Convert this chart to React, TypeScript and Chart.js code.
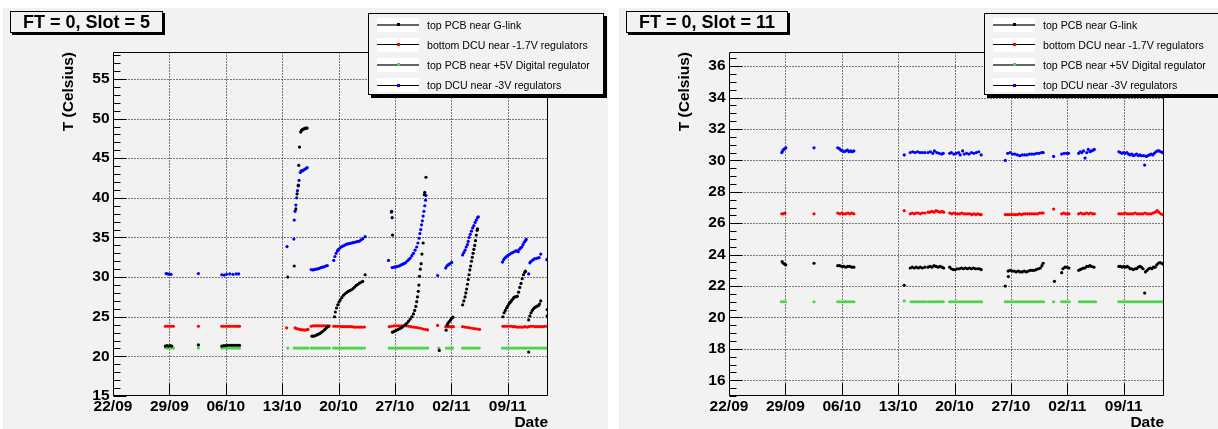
import React, { useEffect, useRef } from 'react';
import { Chart, registerables } from 'chart.js';

Chart.register(...registerables);

type Pt = [number, number];

// x values are days since 22/09
const DATE_TICK_DAYS = [0, 7, 14, 21, 28, 35, 42, 49];
const DATE_TICK_LABELS = ['22/09', '29/09', '06/10', '13/10', '20/10', '27/10', '02/11', '09/11'];
const X_MAX_DAYS = 54;

const SLOT5_Y_TICKS = [15, 20, 25, 30, 35, 40, 45, 50, 55];
const SLOT11_Y_TICKS = [16, 18, 20, 22, 24, 26, 28, 30, 32, 34, 36];

const SERIES_NAMES = [
  'top PCB near G-link',
  'bottom DCU near -1.7V regulators',
  'top PCB near +5V Digital regulator',
  'top DCU near -3V regulators',
];
const SERIES_COLORS = ['#000000', '#ff0000', '#4fd34f', '#0000ff'];

// ---------------- FT = 0, Slot = 5 ----------------
const slot5_glink: Pt[] = [
  [6.5, 21.3], [6.7, 21.35], [6.9, 21.3], [7.1, 21.35], [7.3, 21.3],
  [10.6, 21.45],
  [13.5, 21.3], [13.75, 21.35], [14.0, 21.35], [14.25, 21.4], [14.5, 21.4], [14.75, 21.4], [15.0, 21.4], [15.25, 21.4], [15.5, 21.4], [15.7, 21.4],
  [21.7, 30.0], [22.5, 31.4], [22.7, 38.6], [22.85, 40.5], [23.0, 41.6], [23.05, 44.1], [23.15, 46.4],
  [23.3, 48.3], [23.4, 48.5], [23.5, 48.6], [23.6, 48.65], [23.7, 48.7], [23.8, 48.75], [23.9, 48.8], [24.0, 48.8], [24.1, 48.8],
  [24.7, 22.55], [24.9, 22.55], [25.1, 22.6], [25.3, 22.7], [25.5, 22.8], [25.7, 22.9], [25.9, 23.05], [26.1, 23.2], [26.3, 23.4], [26.5, 23.6], [26.7, 23.75],
  [27.5, 25.0], [27.6, 25.6], [27.75, 26.1], [27.9, 26.5], [28.05, 26.85], [28.2, 27.1], [28.4, 27.4], [28.6, 27.7], [28.8, 27.9], [29.0, 28.05],
  [29.2, 28.2], [29.4, 28.3], [29.6, 28.4], [29.8, 28.55], [30.0, 28.75], [30.2, 28.95], [30.4, 29.1], [30.6, 29.25], [30.8, 29.35], [31.0, 29.45], [31.3, 30.3],
  [34.6, 38.3], [34.65, 37.5], [34.7, 35.3],
  [34.7, 23.05], [34.9, 23.15], [35.1, 23.25], [35.3, 23.35], [35.5, 23.45], [35.7, 23.55], [35.9, 23.7], [36.1, 23.85], [36.3, 24.0], [36.5, 24.2],
  [36.7, 24.45], [36.9, 24.7], [37.1, 25.0], [37.3, 25.35], [37.45, 25.8], [37.6, 26.3], [37.7, 26.9], [37.8, 27.5], [37.9, 28.2], [37.97, 29.0],
  [38.05, 30.1], [38.15, 31.0], [38.25, 31.7], [38.35, 32.9], [38.5, 34.3], [38.65, 40.4], [38.7, 40.7], [38.85, 42.6],
  [40.5, 20.75],
  [41.35, 23.3], [41.5, 24.0], [41.6, 24.2], [41.75, 24.4], [41.9, 24.6], [42.05, 24.8], [42.2, 24.95],
  [43.4, 26.5], [43.55, 27.0], [43.7, 27.5], [43.8, 28.0], [43.9, 28.5], [44.0, 29.1], [44.1, 29.7], [44.2, 30.3], [44.3, 30.9], [44.4, 31.4],
  [44.5, 32.0], [44.6, 32.5], [44.7, 33.0], [44.8, 33.5], [44.9, 34.0], [45.0, 34.6], [45.1, 35.3], [45.2, 35.9], [45.25, 36.1],
  [48.4, 25.0], [48.55, 25.5], [48.7, 25.8], [48.85, 26.1], [49.0, 26.35], [49.15, 26.6], [49.3, 26.8], [49.45, 27.0], [49.6, 27.2], [49.75, 27.4],
  [49.9, 27.5], [50.05, 27.55], [50.2, 27.6], [50.35, 28.1], [50.5, 28.7], [50.65, 29.2], [50.8, 29.8], [50.95, 30.3], [51.1, 30.6], [51.2, 30.75],
  [51.6, 20.55],
  [51.6, 24.6], [51.75, 25.1], [51.9, 25.5], [52.05, 25.8], [52.2, 26.0], [52.35, 26.15], [52.5, 26.25], [52.65, 26.35], [52.8, 26.4], [52.95, 26.6], [53.1, 27.0],
  [53.9, 25.1], [53.9, 25.9],
];

const slot5_bdcu: Pt[] = [
  [6.5, 23.8], [6.75, 23.8], [7.0, 23.8], [7.25, 23.8], [7.5, 23.8],
  [10.6, 23.8],
  [13.5, 23.8], [13.75, 23.8], [14.0, 23.8], [14.25, 23.8], [14.5, 23.8], [14.75, 23.8], [15.0, 23.8], [15.25, 23.8], [15.5, 23.8], [15.7, 23.8],
  [21.55, 23.6],
  [22.6, 23.6], [22.8, 23.5], [23.0, 23.45], [23.2, 23.4], [23.4, 23.35], [23.6, 23.35], [23.8, 23.3], [24.0, 23.35], [24.2, 23.4],
  [24.6, 23.8], [24.85, 23.85], [25.1, 23.85], [25.35, 23.85], [25.6, 23.85], [25.85, 23.85], [26.1, 23.85], [26.35, 23.85], [26.6, 23.85], [26.85, 23.85],
  [27.4, 23.8], [27.65, 23.8], [27.9, 23.8], [28.15, 23.8], [28.4, 23.75], [28.65, 23.75], [28.9, 23.75], [29.15, 23.75], [29.4, 23.75], [29.65, 23.75],
  [29.9, 23.7], [30.15, 23.7], [30.4, 23.7], [30.65, 23.7], [30.9, 23.7], [31.2, 23.7],
  [34.3, 23.75], [34.6, 23.8], [34.9, 23.85], [35.2, 23.85], [35.5, 23.85], [35.8, 23.85], [36.1, 23.85], [36.4, 23.85], [36.7, 23.8], [37.0, 23.75],
  [37.3, 23.7], [37.6, 23.65], [37.9, 23.6], [38.2, 23.55], [38.5, 23.45], [38.8, 23.4], [39.05, 23.35],
  [40.3, 23.9],
  [41.3, 23.75], [41.55, 23.75], [41.8, 23.75], [42.05, 23.75], [42.25, 23.75],
  [43.4, 23.75], [43.7, 23.7], [44.0, 23.65], [44.3, 23.6], [44.6, 23.55], [44.9, 23.5], [45.2, 23.45], [45.5, 23.4],
  [48.4, 23.8], [48.65, 23.8], [48.9, 23.8], [49.15, 23.8], [49.4, 23.8], [49.65, 23.75], [49.9, 23.75], [50.15, 23.7], [50.4, 23.7], [50.65, 23.7],
  [50.9, 23.7], [51.15, 23.75], [51.4, 23.7], [51.65, 23.75], [51.9, 23.8], [52.15, 23.8], [52.4, 23.75], [52.65, 23.75], [52.9, 23.75], [53.15, 23.75],
  [53.4, 23.75], [53.65, 23.8], [53.9, 23.8],
];

const slot5_pcb5v: Pt[] = [
  [6.5, 21.1], [6.75, 21.05], [7.0, 21.05], [7.25, 21.05], [7.5, 21.05],
  [10.6, 21.05],
  [13.5, 21.05], [13.75, 21.05], [14.0, 21.1], [14.25, 21.05], [14.5, 21.05], [14.75, 21.05], [15.0, 21.05], [15.25, 21.05], [15.5, 21.05], [15.7, 21.05],
  [21.7, 21.05],
  [22.5, 21.05], [22.75, 21.05], [23.0, 21.05], [23.25, 21.05], [23.5, 21.05], [23.75, 21.05], [24.0, 21.05], [24.2, 21.05],
  [24.6, 21.05], [24.85, 21.05], [25.1, 21.05], [25.35, 21.05], [25.6, 21.05], [25.85, 21.05], [26.1, 21.05], [26.35, 21.05], [26.6, 21.05], [26.85, 21.05],
  [27.4, 21.05], [27.65, 21.05], [27.9, 21.05], [28.15, 21.05], [28.4, 21.05], [28.65, 21.05], [28.9, 21.05], [29.15, 21.05], [29.4, 21.05], [29.65, 21.05],
  [29.9, 21.05], [30.15, 21.05], [30.4, 21.05], [30.65, 21.05], [30.9, 21.05], [31.2, 21.05],
  [34.3, 21.05], [34.55, 21.05], [34.8, 21.05], [35.05, 21.05], [35.3, 21.05], [35.55, 21.05], [35.8, 21.05], [36.05, 21.05], [36.3, 21.05], [36.55, 21.05],
  [36.8, 21.05], [37.05, 21.05], [37.3, 21.05], [37.55, 21.05], [37.8, 21.05], [38.05, 21.05], [38.3, 21.05], [38.55, 21.05], [38.8, 21.05], [39.05, 21.05],
  [40.45, 21.05],
  [41.4, 21.05], [41.65, 21.05], [41.9, 21.05], [42.15, 21.05],
  [43.4, 21.05], [43.65, 21.05], [43.9, 21.05], [44.15, 21.05], [44.4, 21.05], [44.65, 21.05], [44.9, 21.05], [45.15, 21.05], [45.45, 21.05],
  [48.35, 21.05], [48.6, 21.05], [48.85, 21.05], [49.1, 21.05], [49.35, 21.05], [49.6, 21.05], [49.85, 21.05], [50.1, 21.05], [50.35, 21.05], [50.6, 21.05],
  [50.85, 21.05], [51.1, 21.05], [51.35, 21.05], [51.6, 21.05], [51.85, 21.05], [52.1, 21.05], [52.35, 21.05], [52.6, 21.05], [52.85, 21.05], [53.1, 21.05],
  [53.35, 21.05], [53.6, 21.05], [53.85, 21.05], [54.0, 21.05],
];

const slot5_tdcu: Pt[] = [
  [6.6, 30.45], [6.8, 30.4], [7.0, 30.35], [7.2, 30.35],
  [10.6, 30.45],
  [13.5, 30.3], [13.8, 30.25], [14.1, 30.35], [14.5, 30.4], [14.9, 30.35], [15.3, 30.4], [15.6, 30.4],
  [21.6, 33.85],
  [22.45, 34.8], [22.5, 37.2], [22.6, 38.3], [22.7, 39.1], [22.8, 40.0], [22.9, 40.9], [23.0, 41.5], [23.1, 42.2], [23.25, 43.2],
  [23.35, 43.4], [23.5, 43.4], [23.65, 43.5], [23.8, 43.6], [23.95, 43.7], [24.1, 43.8],
  [24.6, 30.95], [24.8, 30.9], [25.0, 30.95], [25.2, 31.0], [25.4, 31.05], [25.6, 31.1], [25.8, 31.2], [26.0, 31.25], [26.2, 31.3], [26.4, 31.4], [26.6, 31.45],
  [27.4, 32.1], [27.55, 32.6], [27.7, 33.0], [27.85, 33.3], [28.0, 33.5], [28.2, 33.7], [28.4, 33.85], [28.6, 33.95], [28.8, 34.05], [29.0, 34.15],
  [29.2, 34.2], [29.4, 34.25], [29.6, 34.3], [29.8, 34.35], [30.0, 34.4], [30.2, 34.45], [30.4, 34.5], [30.6, 34.55], [30.8, 34.7], [31.0, 34.85], [31.3, 35.1],
  [34.2, 32.1], [34.55, 38.2],
  [34.65, 31.2], [34.9, 31.25], [35.1, 31.3], [35.3, 31.35], [35.5, 31.4], [35.7, 31.5], [35.9, 31.6], [36.1, 31.7], [36.3, 31.8], [36.5, 32.0],
  [36.7, 32.2], [36.9, 32.4], [37.1, 32.7], [37.3, 33.0], [37.5, 33.4], [37.7, 33.8], [37.85, 34.3], [38.0, 34.9], [38.1, 35.5], [38.2, 36.0],
  [38.3, 36.6], [38.4, 37.1], [38.5, 37.7], [38.6, 38.3], [38.7, 39.0], [38.8, 39.7], [38.85, 40.3],
  [40.3, 30.2],
  [41.3, 31.15], [41.45, 31.4], [41.6, 31.55], [41.75, 31.65], [41.9, 31.75], [42.05, 31.85],
  [43.4, 32.8], [43.55, 33.1], [43.7, 33.4], [43.85, 33.8], [44.0, 34.1], [44.1, 34.5], [44.2, 35.0], [44.35, 35.4], [44.5, 35.8], [44.65, 36.2],
  [44.8, 36.5], [44.95, 36.9], [45.1, 37.2], [45.25, 37.5], [45.35, 37.6],
  [48.35, 31.9], [48.5, 32.2], [48.65, 32.4], [48.8, 32.55], [49.0, 32.7], [49.2, 32.85], [49.4, 33.0], [49.6, 33.1], [49.8, 33.2], [50.0, 33.3],
  [50.15, 33.3], [50.3, 33.2], [50.45, 33.5], [50.6, 33.7], [50.75, 33.8], [50.9, 34.1], [51.05, 34.4], [51.2, 34.6], [51.3, 34.75],
  [51.6, 30.4], [51.75, 31.8], [51.9, 32.0], [52.1, 32.15], [52.3, 32.3], [52.5, 32.35], [52.7, 32.4], [52.9, 32.45], [53.1, 32.9],
  [53.85, 32.2], [53.95, 32.3],
];

// ---------------- FT = 0, Slot = 11 ----------------
const slot11_glink: Pt[] = [
  [6.6, 23.55], [6.75, 23.45], [6.9, 23.4], [7.05, 23.35],
  [10.55, 23.45],
  [13.5, 23.3], [13.75, 23.3], [14.0, 23.25], [14.25, 23.25], [14.5, 23.2], [14.75, 23.25], [15.0, 23.25], [15.25, 23.2], [15.5, 23.2],
  [21.75, 22.05],
  [22.5, 23.15], [22.75, 23.2], [23.0, 23.15], [23.25, 23.2], [23.5, 23.15], [23.75, 23.2], [24.0, 23.15], [24.3, 23.2],
  [24.7, 23.2], [24.95, 23.25], [25.2, 23.2], [25.45, 23.3], [25.7, 23.25], [25.95, 23.2], [26.2, 23.25], [26.45, 23.2], [26.65, 23.15],
  [27.4, 23.2], [27.6, 23.1], [27.85, 23.05], [28.1, 23.05], [28.35, 23.1], [28.6, 23.1], [28.85, 23.15], [29.1, 23.1], [29.35, 23.15], [29.6, 23.1],
  [29.85, 23.15], [30.1, 23.1], [30.35, 23.15], [30.6, 23.1], [30.85, 23.1], [31.1, 23.1], [31.3, 23.05],
  [34.3, 22.0], [34.65, 22.95], [34.68, 22.6], [34.9, 23.0], [35.15, 22.95], [35.4, 22.95], [35.65, 22.9], [35.9, 22.95], [36.15, 22.9], [36.4, 22.9],
  [36.65, 22.95], [36.9, 22.9], [37.15, 22.95], [37.4, 23.0], [37.65, 23.0], [37.9, 23.0], [38.15, 23.05], [38.4, 23.1], [38.65, 23.15], [38.85, 23.3], [39.0, 23.45],
  [40.4, 22.3],
  [41.3, 22.85], [41.45, 23.1], [41.7, 23.2], [41.95, 23.2], [42.2, 23.15],
  [43.4, 23.0], [43.6, 23.05], [43.8, 23.1], [44.0, 23.15], [44.2, 23.15], [44.4, 23.25], [44.6, 23.25], [44.8, 23.3], [45.0, 23.25], [45.3, 23.2],
  [48.4, 23.25], [48.6, 23.25], [48.8, 23.2], [49.0, 23.25], [49.2, 23.2], [49.4, 23.25], [49.6, 23.2], [49.8, 23.1], [50.0, 23.1], [50.2, 23.05],
  [50.4, 23.1], [50.6, 23.1], [50.8, 23.2], [51.0, 23.25], [51.2, 23.2], [51.4, 23.1], [51.6, 21.55], [51.7, 22.9], [51.9, 23.0], [52.1, 23.1],
  [52.3, 23.15], [52.5, 23.1], [52.7, 23.2], [52.9, 23.2], [53.1, 23.35], [53.3, 23.45], [53.5, 23.5], [53.7, 23.45], [53.9, 23.4],
];

const slot11_bdcu: Pt[] = [
  [6.55, 26.6], [6.75, 26.6], [6.95, 26.65],
  [10.55, 26.6],
  [13.5, 26.65], [13.75, 26.6], [14.0, 26.65], [14.25, 26.6], [14.5, 26.6], [14.75, 26.65], [15.0, 26.6], [15.25, 26.65], [15.5, 26.6],
  [21.75, 26.8],
  [22.5, 26.6], [22.75, 26.65], [23.0, 26.6], [23.25, 26.65], [23.5, 26.65], [23.75, 26.6], [24.0, 26.65], [24.3, 26.65],
  [24.7, 26.7], [24.95, 26.7], [25.2, 26.75], [25.45, 26.7], [25.7, 26.8], [25.95, 26.75], [26.2, 26.7], [26.45, 26.75], [26.65, 26.7],
  [27.4, 26.65], [27.65, 26.6], [27.9, 26.65], [28.15, 26.6], [28.4, 26.6], [28.65, 26.6], [28.9, 26.65], [29.15, 26.6], [29.4, 26.6], [29.65, 26.6],
  [29.9, 26.6], [30.15, 26.55], [30.4, 26.6], [30.65, 26.55], [30.9, 26.6], [31.15, 26.55], [31.3, 26.55],
  [34.3, 26.55], [34.55, 26.55], [34.8, 26.55], [35.05, 26.55], [35.3, 26.55], [35.55, 26.55], [35.8, 26.55], [36.05, 26.6], [36.3, 26.55], [36.55, 26.6],
  [36.8, 26.6], [37.05, 26.6], [37.3, 26.6], [37.55, 26.6], [37.8, 26.6], [38.05, 26.6], [38.3, 26.6], [38.55, 26.65], [38.8, 26.65], [39.0, 26.65],
  [40.3, 26.9],
  [41.3, 26.6], [41.55, 26.65], [41.8, 26.6], [42.05, 26.6], [42.2, 26.6],
  [43.4, 26.6], [43.65, 26.65], [43.9, 26.6], [44.15, 26.6], [44.4, 26.65], [44.65, 26.6], [44.9, 26.65], [45.15, 26.6], [45.35, 26.6],
  [48.4, 26.6], [48.65, 26.6], [48.9, 26.6], [49.15, 26.65], [49.4, 26.6], [49.65, 26.6], [49.9, 26.6], [50.15, 26.6], [50.4, 26.65], [50.65, 26.6],
  [50.9, 26.6], [51.15, 26.6], [51.4, 26.6], [51.65, 26.65], [51.9, 26.6], [52.15, 26.6], [52.4, 26.6], [52.65, 26.65], [52.9, 26.7], [53.15, 26.8],
  [53.35, 26.7], [53.6, 26.6], [53.85, 26.55], [54.0, 26.55],
];

const slot11_pcb5v: Pt[] = [
  [6.5, 21.0], [6.75, 21.0], [7.0, 21.0],
  [10.55, 21.0],
  [13.5, 21.0], [13.75, 21.0], [14.0, 21.0], [14.25, 21.0], [14.5, 21.0], [14.75, 21.0], [15.0, 21.0], [15.25, 21.0], [15.5, 21.0],
  [21.75, 21.05],
  [22.6, 21.0], [22.85, 21.0], [23.1, 21.0], [23.35, 21.0], [23.6, 21.0], [23.85, 21.0], [24.1, 21.0], [24.35, 21.0],
  [24.7, 21.0], [24.95, 21.0], [25.2, 21.0], [25.45, 21.0], [25.7, 21.0], [25.95, 21.0], [26.2, 21.0], [26.45, 21.0], [26.6, 21.0],
  [27.4, 21.0], [27.65, 21.0], [27.9, 21.0], [28.15, 21.0], [28.4, 21.0], [28.65, 21.0], [28.9, 21.0], [29.15, 21.0], [29.4, 21.0], [29.65, 21.0],
  [29.9, 21.0], [30.15, 21.0], [30.4, 21.0], [30.65, 21.0], [30.9, 21.0], [31.15, 21.0], [31.35, 21.0],
  [34.3, 21.0], [34.55, 21.0], [34.8, 21.0], [35.05, 21.0], [35.3, 21.0], [35.55, 21.0], [35.8, 21.0], [36.05, 21.0], [36.3, 21.0], [36.55, 21.0],
  [36.8, 21.0], [37.05, 21.0], [37.3, 21.0], [37.55, 21.0], [37.8, 21.0], [38.05, 21.0], [38.3, 21.0], [38.55, 21.0], [38.8, 21.0], [39.05, 21.0],
  [40.3, 21.0],
  [41.3, 21.0], [41.55, 21.0], [41.8, 21.0], [42.05, 21.0], [42.25, 21.0],
  [43.5, 21.0], [43.75, 21.0], [44.0, 21.0], [44.25, 21.0], [44.5, 21.0], [44.75, 21.0], [45.0, 21.0], [45.25, 21.0], [45.5, 21.0],
  [48.4, 21.0], [48.65, 21.0], [48.9, 21.0], [49.15, 21.0], [49.4, 21.0], [49.65, 21.0], [49.9, 21.0], [50.15, 21.0], [50.4, 21.0], [50.65, 21.0],
  [50.9, 21.0], [51.15, 21.0], [51.4, 21.0], [51.65, 21.0], [51.9, 21.0], [52.15, 21.0], [52.4, 21.0], [52.65, 21.0], [52.9, 21.0], [53.15, 21.0],
  [53.4, 21.0], [53.65, 21.0], [53.9, 21.0], [54.0, 21.0],
];

const slot11_tdcu: Pt[] = [
  [6.55, 30.5], [6.65, 30.6], [6.8, 30.7], [6.95, 30.75], [7.05, 30.8],
  [10.55, 30.8],
  [13.5, 30.8], [13.7, 30.75], [13.9, 30.65], [14.1, 30.6], [14.3, 30.55], [14.5, 30.6], [14.7, 30.65], [14.9, 30.55], [15.1, 30.6], [15.3, 30.55], [15.5, 30.6],
  [21.75, 30.35],
  [22.5, 30.5], [22.8, 30.55], [23.1, 30.5], [23.4, 30.55], [23.7, 30.5], [24.0, 30.5], [24.3, 30.5],
  [24.7, 30.5], [25.0, 30.55], [25.3, 30.45], [25.5, 30.6], [25.8, 30.5], [26.1, 30.45], [26.4, 30.4], [26.6, 30.45],
  [27.4, 30.45], [27.6, 30.5], [27.9, 30.4], [28.2, 30.45], [28.5, 30.5], [28.7, 30.35], [29.0, 30.6], [29.2, 30.4], [29.5, 30.45], [29.8, 30.4],
  [30.1, 30.5], [30.4, 30.45], [30.7, 30.5], [31.0, 30.55], [31.3, 30.35],
  [34.3, 30.0], [34.6, 30.45], [34.9, 30.5], [35.2, 30.4], [35.5, 30.4], [35.8, 30.35], [36.1, 30.3], [36.4, 30.35], [36.7, 30.35], [37.0, 30.35],
  [37.3, 30.4], [37.6, 30.4], [37.9, 30.4], [38.2, 30.45], [38.5, 30.45], [38.8, 30.5], [39.0, 30.5],
  [40.3, 30.25],
  [41.3, 30.4], [41.6, 30.45], [41.9, 30.45], [42.15, 30.45],
  [43.4, 30.45], [43.6, 30.55], [43.8, 30.5], [44.0, 30.6], [44.2, 30.15], [44.4, 30.5], [44.6, 30.7], [44.8, 30.55], [45.0, 30.6], [45.2, 30.65], [45.35, 30.7],
  [48.4, 30.55], [48.6, 30.5], [48.8, 30.45], [49.0, 30.5], [49.2, 30.45], [49.4, 30.5], [49.6, 30.4], [49.8, 30.35], [50.0, 30.4], [50.2, 30.3],
  [50.4, 30.35], [50.6, 30.4], [50.8, 30.3], [51.0, 30.35], [51.2, 30.3], [51.5, 30.3], [51.6, 29.7], [51.8, 30.25], [52.0, 30.3], [52.2, 30.35],
  [52.4, 30.4], [52.6, 30.35], [52.8, 30.45], [53.0, 30.55], [53.2, 30.6], [53.4, 30.6], [53.6, 30.55], [53.8, 30.5], [53.95, 30.55],
];

const FONT_FAMILY = '"Liberation Sans", Arial, Helvetica, sans-serif';

const PAD_W = 605;
const PAD_H = 421;

type PanelDef = {
  title: string;
  padLeft: number;
  yMin: number;
  yMax: number;
  yTicks: number[];
  yMinorStep: number;
  series: Pt[][];
};

const PANELS: PanelDef[] = [
  { title: 'FT = 0, Slot = 5', padLeft: 3, yMin: 15, yMax: 58.4, yTicks: SLOT5_Y_TICKS, yMinorStep: 1, series: [slot5_glink, slot5_bdcu, slot5_pcb5v, slot5_tdcu] },
  { title: 'FT = 0, Slot = 11', padLeft: 619, yMin: 15, yMax: 36.9, yTicks: SLOT11_Y_TICKS, yMinorStep: 0.5, series: [slot11_glink, slot11_bdcu, slot11_pcb5v, slot11_tdcu] },
];

// ROOT-style frame: dotted grid under the data, frame box and inward ticks over it.
const rootFramePlugin = {
  id: 'rootFrame',
  beforeDatasetsDraw(chart: any, _args: any, opts: any) {
    const { ctx, chartArea, scales } = chart;
    const xs = scales.x;
    const ys = scales.y;
    const L = Math.round(chartArea.left) + 0.5;
    const R = Math.round(chartArea.right) - 0.5;
    const T = Math.round(chartArea.top) + 0.5;
    const B = Math.round(chartArea.bottom) - 0.5;
    ctx.save();
    ctx.strokeStyle = '#000';
    ctx.lineWidth = 1;
    ctx.setLineDash([1, 2]);
    ctx.beginPath();
    for (const v of opts.yMajor || []) {
      const py = Math.round(ys.getPixelForValue(v)) + 0.5;
      if (py > B - 1 || py < T + 1) continue;
      ctx.moveTo(L, py);
      ctx.lineTo(R, py);
    }
    for (const d of opts.xMajor || []) {
      const px = Math.round(xs.getPixelForValue(d)) + 0.5;
      if (px < L + 1 || px > R - 1) continue;
      ctx.moveTo(px, T);
      ctx.lineTo(px, B);
    }
    ctx.stroke();
    ctx.restore();
  },
  afterDraw(chart: any, _args: any, opts: any) {
    const { ctx, chartArea, scales } = chart;
    const xs = scales.x;
    const ys = scales.y;
    const L = Math.round(chartArea.left) + 0.5;
    const R = Math.round(chartArea.right) - 0.5;
    const T = Math.round(chartArea.top) + 0.5;
    const B = Math.round(chartArea.bottom) - 0.5;
    ctx.save();
    ctx.setLineDash([]);
    ctx.strokeStyle = '#000';
    ctx.lineWidth = 1;
    ctx.beginPath();
    ctx.rect(L, T, R - L, B - T);
    const majors: number[] = opts.yMajor || [];
    const step: number = opts.yMinorStep || 1;
    const n = Math.floor((ys.max - ys.min) / step + 1e-6);
    for (let i = 0; i <= n; i++) {
      const v = ys.min + i * step;
      const py = Math.round(ys.getPixelForValue(v)) + 0.5;
      const major = majors.some((m) => Math.abs(m - v) < 1e-6);
      ctx.moveTo(L, py);
      ctx.lineTo(L + (major ? 13 : 7), py);
    }
    for (const d of opts.xMajor || []) {
      const px = Math.round(xs.getPixelForValue(d)) + 0.5;
      ctx.moveTo(px, B);
      ctx.lineTo(px, B - 12);
    }
    ctx.stroke();
    ctx.restore();
  },
};

function Panel({ def }: { def: PanelDef }) {
  const ref = useRef<HTMLCanvasElement | null>(null);
  useEffect(() => {
    if (!ref.current) return;
    const tickFont = { family: FONT_FAMILY, weight: 'bold' as const, size: 15.5 };
    const chart = new Chart(ref.current, {
      type: 'scatter',
      data: {
        datasets: def.series.map((pts, i) => ({
          label: SERIES_NAMES[i],
          data: pts.map(([x, y]) => ({ x, y })),
          backgroundColor: SERIES_COLORS[i],
          borderColor: SERIES_COLORS[i],
          pointRadius: 1.6,
          pointBorderWidth: 0,
          pointHoverRadius: 1.6,
          showLine: false,
        })),
      },
      options: {
        animation: false,
        responsive: false,
        maintainAspectRatio: false,
        events: [],
        layout: { padding: { top: 44, right: 60, bottom: 0, left: 0 } },
        plugins: {
          legend: { display: false },
          tooltip: { enabled: false },
          title: { display: false },
          rootFrame: { yMajor: def.yTicks, yMinorStep: def.yMinorStep, xMajor: DATE_TICK_DAYS },
        } as any,
        scales: {
          x: {
            type: 'linear',
            position: 'bottom',
            min: 0,
            max: X_MAX_DAYS,
            afterBuildTicks: (s: any) => {
              s.ticks = DATE_TICK_DAYS.map((v) => ({ value: v }));
            },
            afterFit: (s: any) => {
              s.height = 33;
            },
            ticks: {
              autoSkip: false,
              maxRotation: 0,
              minRotation: 0,
              padding: 1,
              color: '#000',
              font: tickFont,
              callback: (v: any) => {
                const idx = DATE_TICK_DAYS.indexOf(Number(v));
                return idx >= 0 ? DATE_TICK_LABELS[idx] : '';
              },
            },
            grid: { display: false, drawTicks: false },
            border: { display: false },
            title: {
              display: true,
              text: 'Date',
              align: 'end',
              color: '#000',
              font: { family: FONT_FAMILY, weight: 'bold', size: 15.5, lineHeight: 1.2 },
              padding: { top: 0, bottom: -3 },
            },
          },
          y: {
            type: 'linear',
            min: def.yMin,
            max: def.yMax,
            afterBuildTicks: (s: any) => {
              s.ticks = def.yTicks.map((v) => ({ value: v }));
            },
            afterFit: (s: any) => {
              s.width = 110;
            },
            ticks: {
              padding: 3.5,
              color: '#000',
              font: tickFont,
              callback: (v: any) => String(v),
            },
            grid: { display: false, drawTicks: false },
            border: { display: false },
            title: {
              display: true,
              text: 'T (Celsius)',
              align: 'end',
              color: '#000',
              font: { family: FONT_FAMILY, weight: 'bold', size: 15.5, lineHeight: 1.2 },
              padding: { top: 56.5, bottom: 0 },
            },
          },
        },
      } as any,
      plugins: [rootFramePlugin],
    });
    return () => chart.destroy();
  }, [def]);

  const rowTop = (i: number) => 10.5 + i * 20.2;

  return (
    <div
      style={{
        position: 'absolute',
        left: def.padLeft,
        top: 8,
        width: PAD_W,
        height: PAD_H,
        background: '#f2f2f2',
      }}
    >
      <canvas ref={ref} width={PAD_W} height={PAD_H} style={{ position: 'absolute', left: 0, top: 0, width: PAD_W, height: PAD_H }} />
      {/* title box */}
      <div
        style={{
          position: 'absolute',
          left: 7,
          top: 3,
          height: 22,
          boxSizing: 'border-box',
          padding: '0 12px',
          border: '1px solid #000',
          boxShadow: '2px 2px 0 #000',
          background: '#f2f2f2',
          fontFamily: FONT_FAMILY,
          fontWeight: 'bold',
          fontSize: 18,
          lineHeight: '20px',
          color: '#000',
          whiteSpace: 'nowrap',
        }}
      >
        {def.title}
      </div>
      {/* legend */}
      <div
        style={{
          position: 'absolute',
          left: 365,
          top: 5,
          width: 236,
          height: 82,
          boxSizing: 'border-box',
          border: '1px solid #000',
          boxShadow: '3px 3px 0 #000',
          background: '#f2f2f2',
        }}
      >
        {SERIES_NAMES.map((name, i) => (
          <React.Fragment key={name}>
            <div
              style={{
                position: 'absolute',
                left: 8,
                top: rowTop(i) - 7,
                width: 42,
                height: 14,
                background: '#ffffff',
              }}
            />
            <div
              style={{
                position: 'absolute',
                left: 8,
                top: rowTop(i) - (i % 2 === 0 ? 1 : 0.5),
                width: 42,
                height: i % 2 === 0 ? 2 : 1,
                background: i % 2 === 0 ? '#666666' : '#000000',
              }}
            />
            <div
              style={{
                position: 'absolute',
                left: 27.5,
                top: rowTop(i) - 1.5,
                width: 3,
                height: 3,
                background: SERIES_COLORS[i],
              }}
            />
            <div
              style={{
                position: 'absolute',
                left: 58,
                top: rowTop(i) - 7,
                height: 14,
                lineHeight: '14px',
                fontFamily: FONT_FAMILY,
                fontSize: 10.6,
                color: '#000',
                whiteSpace: 'nowrap',
              }}
            >
              {name}
            </div>
          </React.Fragment>
        ))}
      </div>
    </div>
  );
}

export default function App() {
  return (
    <div
      style={{
        position: 'absolute',
        left: 0,
        top: 0,
        width: 1218,
        height: 429,
        overflow: 'hidden',
        background: '#ffffff',
      }}
    >
      {PANELS.map((p) => (
        <Panel key={p.title} def={p} />
      ))}
    </div>
  );
}
